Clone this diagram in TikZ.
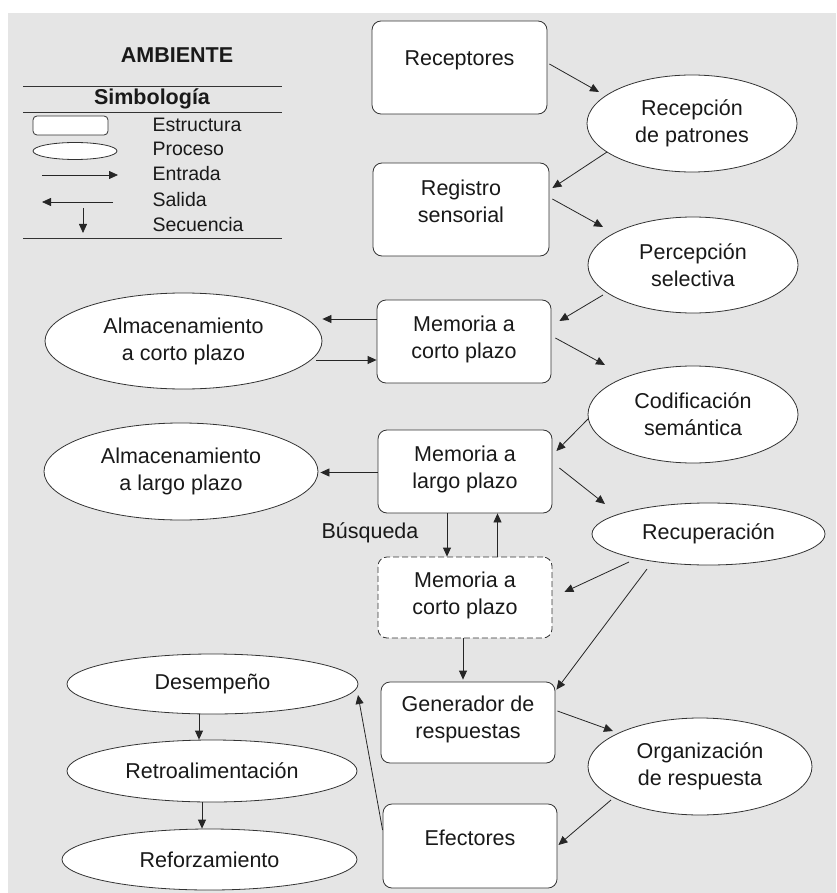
\documentclass[tikz,border=0pt]{standalone}
\usepackage{fontspec}
\setmainfont{Liberation Sans}
\usetikzlibrary{shapes.geometric,arrows.meta,calc}
\begin{document}
\begin{tikzpicture}[x=1pt,y=-1pt,
  every node/.style={font=\fontsize{21.5}{27}\selectfont, text=black!90},
  box/.style={draw=black!80, fill=white, rounded corners=9pt, line width=0.8pt, inner sep=0pt, minimum width=174pt, minimum height=83pt},
  proc/.style={ellipse, draw=black!80, fill=white, line width=0.8pt, inner sep=0pt, align=center},
  lbl/.style={align=center},
  arr/.style={draw=black!85, line width=0.8pt, -{Triangle[length=9pt,width=8pt]}},
  leg/.style={font=\fontsize{19.5}{24}\selectfont, anchor=west},
  rulel/.style={draw=black!80, line width=0.8pt},
  ttl/.style={font=\fontsize{21.5}{27}\selectfont\bfseries}
]
\useasboundingbox (0,0) rectangle (836,893);
\fill[white] (0,0) rectangle (836,893);
\fill[black!10] (8,13) rectangle (836,893);

% legend
\node[ttl] (amb) at (177,55) {AMBIENTE};
\draw[rulel] (23,86) -- (282,86);
\node[ttl] (simb) at (152,99) {Simbología};
\draw[rulel] (23,112) -- (282,112);
\draw[draw=black!80, fill=white, line width=0.8pt, rounded corners=4pt] (33,116) rectangle (108,135);
\node[ellipse, draw=black!80, fill=white, line width=0.8pt, inner sep=0pt, minimum width=84pt, minimum height=17pt] (legp) at (75,151) {};
\draw[arr] (42,175) -- (118,175);
\draw[arr] (113,202) -- (42,202);
\draw[arr] (83,208) -- (83,233);
\draw[rulel] (23,238) -- (282,238);
\node[leg] (l1) at (149,125) {Estructura};
\node[leg] (l2) at (149,149) {Proceso};
\node[leg] (l3) at (149,174) {Entrada};
\node[leg] (l4) at (149,200) {Salida};
\node[leg] (l5) at (149,225) {Secuencia};

% nodes
\node[box, minimum width=175pt, minimum height=93pt, label={[lbl,yshift=7pt]center:Receptores}] (rec) at (459.5,67.5) {};
\node[proc, minimum width=210pt, minimum height=97pt] (recp) at (692,123.5) {Recepción\\de patrones};
\node[box, minimum width=176pt, minimum height=93pt, label={[lbl,yshift=8pt]center:Registro\\sensorial}] (reg) at (461,209.5) {};
\node[proc, minimum width=210pt, minimum height=96pt] (perc) at (693,265) {Percepción\\selectiva};
\node[box, label={[lbl,yshift=2pt]center:Memoria a\\corto plazo}] (mcp) at (464,341.5) {};
\node[proc, minimum width=210pt, minimum height=97pt] (cod) at (693,414.5) {Codificación\\semántica};
\node[box, label={[lbl,yshift=2pt]center:Memoria a\\largo plazo}] (mlp) at (465,471.5) {};
\node[proc, minimum width=233pt, minimum height=62pt] (recu) at (708.5,534) {Recuperación};
\node[box, dash pattern=on 6pt off 3pt, minimum height=81pt, label={[lbl,yshift=2pt]center:Memoria a\\corto plazo}] (mcp2) at (465,597.5) {};
\node[box, minimum height=81pt, label={[lbl,yshift=3pt]center:Generador de\\respuestas}] (gen) at (468,722.5) {};
\node[proc, minimum width=224pt, minimum height=97pt] (org) at (700,766.5) {Organización\\de respuesta};
\node[box, minimum height=84pt, label={[lbl,yshift=8pt]center:Efectores}] (efe) at (470,846) {};
\node[proc, minimum width=277pt, minimum height=96pt] (acp) at (183.5,341) {Almacenamiento\\a corto plazo};
\node[proc, minimum width=274pt, minimum height=97pt] (alp) at (181,471.5) {Almacenamiento\\a largo plazo};
\node[proc, minimum width=291pt, minimum height=60pt] (des) at (212.5,684) {Desempeño};
\node[proc, minimum width=290pt, minimum height=62pt] (ret) at (212,771) {Retroalimentación};
\node[proc, minimum width=295pt, minimum height=61pt] (ref) at (209.5,859.5) {Reforzamiento};
\node (bus) at (370,533) {Búsqueda};

% connectors
\draw[arr] ($(rec.east)+(2,-3.5)$) -- ($(recp)+(-93,-31.5)$);
\draw[arr] ($(recp)+(-85,28.5)$) -- ($(reg.east)+(3,-21.5)$);
\draw[arr] ($(reg.east)+(3,-10.5)$) -- ($(perc)+(-90,-38)$);
\draw[arr] ($(perc)+(-90,30)$) -- ($(mcp.east)+(8,-20.5)$);
\draw[arr] ($(mcp.east)+(4,-3.5)$) -- ($(cod)+(-88,-49.5)$);
\draw[arr] ($(cod)+(-105,4.5)$) -- ($(mlp.east)+(4,-20.5)$);
\draw[arr] ($(mlp.east)+(7,-3.5)$) -- ($(recu)+(-103.5,-30)$);
\draw[arr] ($(mlp.west)+(0,1)$) -- ($(alp.east)+(2,1)$);
\draw[arr] ($(mcp.west)+(0,-22.5)$) -- ($(acp.east)+(0,-22)$);
\draw[arr] ($(acp.east)+(-6,19)$) -- ($(mcp.west)+(0,18.5)$);
\draw[arr] ($(mlp.south)+(-18,0)$) -- ($(mcp2.north)+(-18,0)$);
\draw[arr] ($(mcp2.north)+(32.5,0)$) -- ($(mlp.south)+(32.5,0)$);
\draw[arr] ($(recu)+(-79.5,28)$) -- ($(mcp2.east)+(12,-5.5)$);
\draw[arr] ($(recu)+(-61.5,35)$) -- ($(gen.north east)+(1,8)$);
\draw[arr] ($(mcp2.south)+(-2,0)$) -- ($(gen.north)+(-5,-2)$);
\draw[arr] ($(gen.east)+(2,-11.5)$) -- ($(org)+(-87,-35.5)$);
\draw[arr] ($(org)+(-89,33.5)$) -- ($(efe.east)+(1,-1)$);
\draw[arr] ($(efe.west)+(0,-16)$) -- ($(des)+(145.5,11)$);
\draw[arr] ($(des.south)+(-13.5,0)$) -- ($(ret.north)+(-13,0)$);
\draw[arr] ($(ret.south)+(-10,0)$) -- ($(ref.north)+(-7.5,0)$);
\end{tikzpicture}
\end{document}
